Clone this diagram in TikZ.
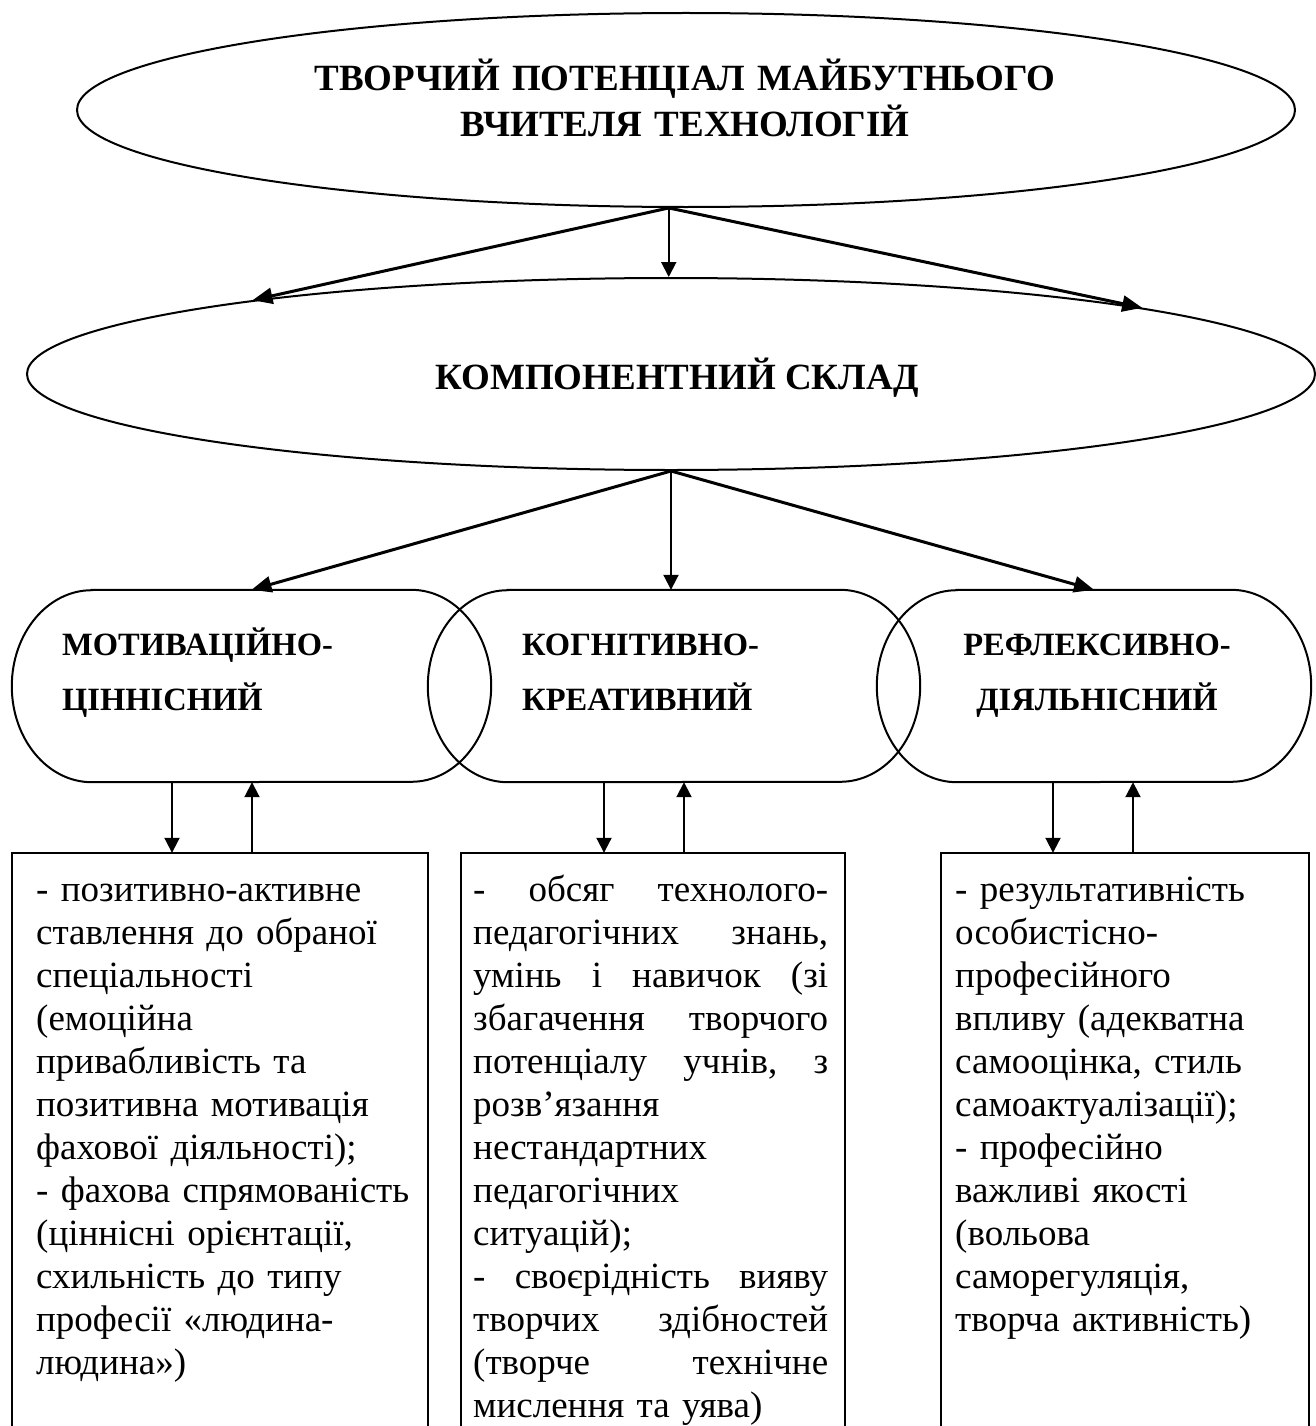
\documentclass[tikz,border=0pt]{standalone}
\usepackage{fontspec}
\setmainfont{Liberation Serif}
\usetikzlibrary{arrows.meta,shapes.geometric}
\newcommand\stadiumpath[1]{%
  \draw[line width=2pt] ([xshift=80pt]#1.north west) -- ([xshift=-80pt]#1.north east)
    arc[start angle=90,end angle=-90,x radius=80pt,y radius=96pt]
    -- ([xshift=80pt]#1.south west)
    arc[start angle=270,end angle=90,x radius=80pt,y radius=96pt] -- cycle;}
\newcommand\jline[1]{\leavevmode\hbox to 355pt{#1}}
\begin{document}
\begin{tikzpicture}[x=1pt,y=-1pt,
  oval/.style={ellipse,draw,line width=2pt,inner sep=0pt},
  capsule/.style={rectangle,inner sep=0pt,minimum height=192pt},
  boxframe/.style={rectangle,inner sep=0pt},
  headtext/.style={inner sep=0pt,font=\fontsize{37}{43}\selectfont\bfseries},
  labtext/.style={inner sep=0pt,font=\fontsize{32.5}{55}\selectfont\bfseries},
  bodytext/.style={inner sep=0pt,anchor=north west,align=left,font=\fontsize{37}{43}\selectfont},
  bigarr/.style={line width=3pt,-{Triangle[length=20pt,width=16pt]}},
  smallarr/.style={line width=2pt,-{Triangle[length=15pt,width=15pt]}},
]
\useasboundingbox (0,0) rectangle (1315,1426);

% ellipses
\node[oval,minimum width=1218pt,minimum height=194pt] (top) at (686,110) {};
\node[headtext,anchor=north,text width=900pt,align=center] (ttl) at (685,58.9)
  {\strut ТВОРЧИЙ ПОТЕНЦІАЛ МАЙБУТНЬОГО\\ВЧИТЕЛЯ ТЕХНОЛОГІЙ};
\node[oval,minimum width=1288pt,minimum height=192pt] (mid) at (671,374) {};
\node[headtext,anchor=base] (midt) at (677,389) {КОМПОНЕНТНИЙ СКЛАД};

% capsules
\node[capsule,minimum width=479pt] (s1) at (251.5,686) {};
\node[capsule,minimum width=492pt] (s2) at (674,686) {};
\node[capsule,minimum width=434pt] (s3) at (1094,686) {};
\stadiumpath{s1}
\stadiumpath{s2}
\stadiumpath{s3}
\node[labtext,anchor=north west,text width=330pt,align=left] (l1) at (62,616.5)
  {\strut МОТИВАЦІЙНО-\\ЦІННІСНИЙ};
\node[labtext,anchor=north west,text width=330pt,align=left] (l2) at (522,616.5)
  {\strut КОГНІТИВНО-\\КРЕАТИВНИЙ};
\node[labtext,anchor=north,text width=330pt,align=center] (l3) at (1097,616.5)
  {\strut РЕФЛЕКСИВНО-\\ДІЯЛЬНІСНИЙ};

% boxes (open at the bottom edge of the page)
\node[boxframe,minimum width=416pt,minimum height=573pt] (b1) at (220,1139.5) {};
\node[boxframe,minimum width=384pt,minimum height=573pt] (b2) at (653,1139.5) {};
\node[boxframe,minimum width=368pt,minimum height=573pt] (b3) at (1125,1139.5) {};
\foreach \b in {b1,b2,b3}
  \draw[line width=2pt] (\b.south west) |- (\b.north east) -- (\b.south east);

\node[bodytext,text width=390pt] (t1) at (36,870.9)
  {\strut - позитивно-активне\\
   ставлення до обраної\\
   спеціальності\\
   (емоційна\\
   привабливість та\\
   позитивна мотивація\\
   фахової діяльності);\\
   - фахова спрямованість\\
   (ціннісні орієнтації,\\
   схильність до типу\\
   професії «людина-\\
   людина»)};
\node[bodytext,text width=355pt] (t2) at (473,870.9)
  {\strut\jline{-\hfill обсяг\hfill технолого-}\\
   \jline{педагогічних\hfill знань,}\\
   \jline{умінь\hfill і\hfill навичок\hfill (зі}\\
   \jline{збагачення\hfill творчого}\\
   \jline{потенціалу\hfill учнів,\hfill з}\\
   розв’язання\\
   нестандартних\\
   педагогічних\\
   ситуацій);\\
   \jline{-\hfill своєрідність\hfill вияву}\\
   \jline{творчих\hfill здібностей}\\
   \jline{(творче\hfill технічне}\\
   мислення та уява)};
\node[bodytext,text width=345pt] (t3) at (955,870.9)
  {\strut - результативність\\
   особистісно-\\
   професійного\\
   впливу (адекватна\\
   самооцінка, стиль\\
   самоактуалізації);\\
   - професійно\\
   важливі якості\\
   (вольова\\
   саморегуляція,\\
   творча активність)};

% connectors: top -> mid
\draw[bigarr] (top.260) -- (mid.170);
\draw[smallarr] (top.260) -- (top.260 |- mid.north);
\draw[bigarr] (top.260) -- (mid.8.9);

% mid -> capsules
\draw[bigarr] (mid.south) -- (s1.north);
\draw[smallarr] (mid.south) -- (mid.south |- s2.north);
\draw[bigarr] (mid.south) -- (s3.north);

% capsules <-> boxes
\coordinate (d1) at (172,0);
\coordinate (u1) at (252,0);
\coordinate (d2) at (604,0);
\coordinate (u2) at (684,0);
\coordinate (d3) at (1053,0);
\coordinate (u3) at (1133,0);
\draw[smallarr] (d1 |- s1.south) -- (d1 |- b1.north);
\draw[smallarr] (u1 |- b1.north) -- (u1 |- s1.south);
\draw[smallarr] (d2 |- s2.south) -- (d2 |- b2.north);
\draw[smallarr] (u2 |- b2.north) -- (u2 |- s2.south);
\draw[smallarr] (d3 |- s3.south) -- (d3 |- b3.north);
\draw[smallarr] (u3 |- b3.north) -- (u3 |- s3.south);
\end{tikzpicture}
\end{document}
